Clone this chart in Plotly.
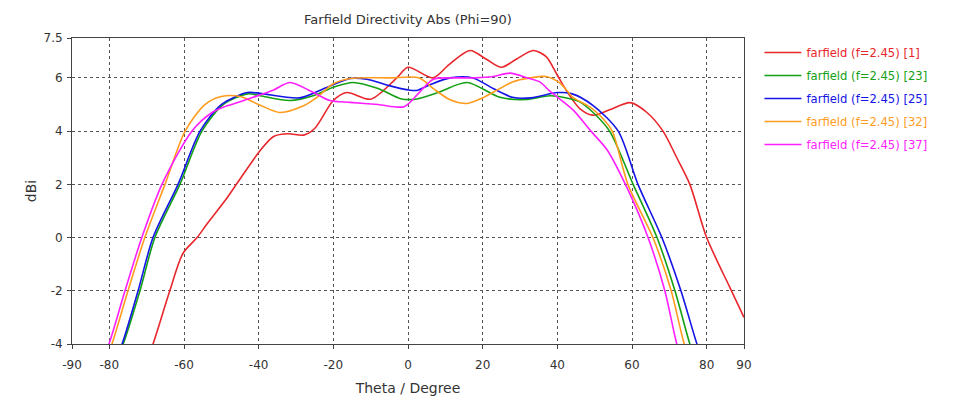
import plotly.graph_objects as go

# Farfield directivity cuts at Phi=90, five parameter runs

red_theta = [-70, -68.3, -63.8, -60.3, -56.5, -53.9, -49, -45, -39.6, -36, -32, -28, -25, -20, -16.4, -10, -3, 0, 6.7, 11, 16.6, 21, 25, 29, 33.5, 37, 40, 43, 46, 49.6, 54, 59.5, 64, 68.3, 72, 75.5, 80, 86.3, 90]
red_db = [-4.6, -4, -2, -0.6, 0, 0.5, 1.39, 2.2, 3.27, 3.8, 3.9, 3.85, 4.1, 5.15, 5.45, 5.2, 6.0, 6.4, 6.0, 6.5, 7.03, 6.7, 6.4, 6.7, 7.03, 6.8, 6.1, 5.4, 4.85, 4.6, 4.8, 5.07, 4.7, 4.0, 3.0, 2.0, 0, -1.9, -3.0]

green_theta = [-78, -76.3, -71.8, -67.8, -61.1, -55.2, -49.5, -43, -39.6, -31.6, -25, -20, -14.7, -8, -2, 2, 8, 15.8, 24.6, 32, 38, 43.4, 46, 49.6, 54, 60.3, 66.7, 71.5, 75.5, 77]
green_db = [-4.5, -4, -2, 0, 2, 4, 5.0, 5.4, 5.33, 5.15, 5.35, 5.65, 5.83, 5.6, 5.22, 5.2, 5.45, 5.83, 5.27, 5.19, 5.33, 5.22, 5.1, 4.7, 4.0, 2, 0, -2, -4, -4.6]

blue_theta = [-78.5, -76.6, -72.3, -68.3, -61.6, -55.7, -50, -43, -39.6, -29, -22, -15.5, -11, -4.8, 0, 2.4, 6, 11.3, 17.4, 22.8, 28, 33, 40, 44, 49.6, 56.3, 61.6, 68, 73.1, 77.4, 79]
blue_db = [-4.6, -4, -2, 0, 2, 4, 5.0, 5.45, 5.42, 5.25, 5.63, 5.98, 5.95, 5.7, 5.55, 5.53, 5.75, 6.0, 6.0, 5.6, 5.27, 5.25, 5.45, 5.4, 4.96, 4.0, 2, 0, -2, -4, -4.6]

orange_theta = [-81, -79.3, -75, -70.5, -65.1, -59.7, -54.4, -50, -45, -40, -34.3, -28, -24.4, -20, -15.5, -5, 3, 6.8, 11, 15.8, 20, 24.6, 28, 32.7, 37, 40.7, 44.2, 48.8, 52, 54.7, 58.9, 65.6, 70.5, 74, 75.5]
orange_db = [-4.6, -4, -2, 0, 2, 4, 5.0, 5.3, 5.3, 5.0, 4.7, 4.95, 5.27, 5.78, 5.98, 6.0, 6.0, 5.6, 5.2, 5.04, 5.25, 5.6, 5.85, 6.0, 6.05, 5.8, 5.27, 4.9, 4.5, 4.0, 2, 0, -2, -4, -4.5]

magenta_theta = [-82, -80.1, -75.8, -71.3, -65.9, -57.9, -52.5, -49.5, -45, -41.5, -36, -31.6, -26, -20.9, -15.5, -8, -1, 3, 6.8, 12, 18, 22.8, 27.3, 32, 35.4, 38, 44.2, 49, 53.3, 58.9, 64.3, 68.8, 72, 73.5]
magenta_db = [-4.6, -4, -2, 0, 2, 4, 4.7, 4.9, 5.1, 5.27, 5.55, 5.83, 5.5, 5.15, 5.08, 5.0, 4.92, 5.45, 5.95, 6.0, 6.0, 6.05, 6.18, 6.0, 5.84, 5.5, 4.8, 4.0, 3.3, 1.8, 0, -2, -4, -4.6]

run_labels = ["farfield (f=2.45) [1]", "farfield (f=2.45) [23]", "farfield (f=2.45) [25]", "farfield (f=2.45) [32]", "farfield (f=2.45) [37]"]
run_colors = ["#e8262b", "#14a014", "#1414e6", "#ff9c1e", "#ff1eff"]

x_ticks = [-90, -80, -60, -40, -20, 0, 20, 40, 60, 80, 90]
y_ticks = [-4, -2, 0, 2, 4, 6, 7.5]

series = [
    (red_theta, red_db),
    (green_theta, green_db),
    (blue_theta, blue_db),
    (orange_theta, orange_db),
    (magenta_theta, magenta_db),
]

fig = go.Figure()
for i, (th, db) in enumerate(series):
    fig.add_trace(go.Scatter(
        x=th, y=db, mode="lines",
        line=dict(color=run_colors[i], width=1.6, shape="spline", smoothing=0.8),
        name="<span style='color:%s'>%s</span>" % (run_colors[i], run_labels[i]),
        legendgroup=str(i),
    ))

# page body has an 8px margin, so the figure is a bit smaller than the window
W, H = 950, 391

fig.update_layout(
    width=W, height=H,
    margin=dict(l=64, r=214, t=30, b=55, autoexpand=False),
    paper_bgcolor="white",
    plot_bgcolor="white",
    font=dict(family="DejaVu Sans", size=12, color="#333333"),
    title=dict(text="Farfield Directivity Abs (Phi=90)", x=400 / W, xanchor="center",
               y=1 - 11 / H, yanchor="middle", font=dict(family="DejaVu Sans", size=13, color="#333333")),
    legend=dict(x=1.023, y=1.0, xanchor="left", yanchor="top", traceorder="grouped",
                tracegroupgap=4, itemwidth=37, font=dict(family="DejaVu Sans", size=11.6),
                bgcolor="rgba(0,0,0,0)"),
    xaxis=dict(range=[-90, 90], tickvals=x_ticks, ticktext=[str(v) for v in x_ticks],
               showgrid=True, gridcolor="#555555", griddash="dot", gridwidth=1,
               showline=True, linecolor="#444444", mirror=True, ticks="outside", ticklen=4,
               tickcolor="#444444", zeroline=False, automargin=False, ticklabelstandoff=6,
               title=dict(text="Theta / Degree", standoff=11)),
    yaxis=dict(range=[-4, 7.5], tickvals=y_ticks, ticktext=["-4", "-2", "0", "2", "4", "6", "7.5"],
               showgrid=True, gridcolor="#555555", griddash="dot", gridwidth=1,
               showline=True, linecolor="#444444", mirror=True, ticks="outside", ticklen=4,
               tickcolor="#444444", zeroline=False, automargin=False, ticklabelstandoff=2,
               title=dict(text="dBi", standoff=3)),
)

fig.write_html("out.html")
